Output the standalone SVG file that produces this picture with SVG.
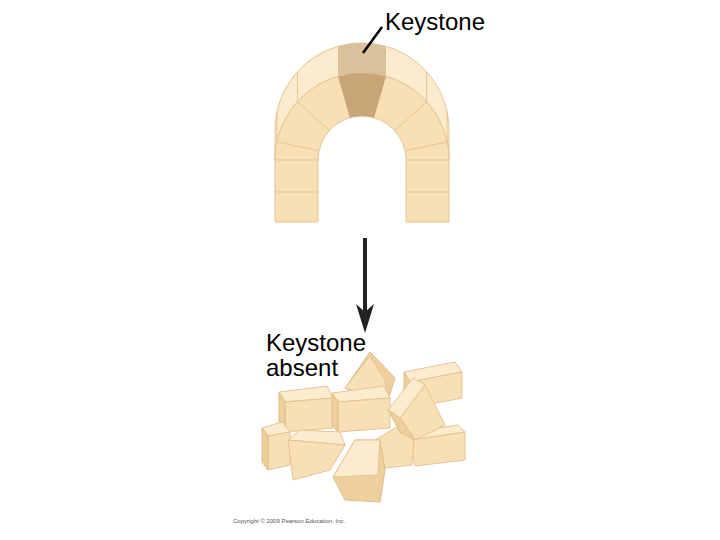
<svg xmlns="http://www.w3.org/2000/svg" width="720" height="540" viewBox="0 0 720 540">
<style>
.t{font-family:"Liberation Sans",Arial,sans-serif;font-size:24px;fill:#000}
.f{fill:#f8e0b4;stroke:#e2c596;stroke-width:1}
.tp{fill:#fcebcc;stroke:#e2c596;stroke-width:1}
.sd{fill:#efcf9c;stroke:#dcbd8b;stroke-width:1}
.d{stroke:#e2c596;stroke-width:1;fill:none}
</style>
<rect width="720" height="540" fill="#fff"/>
<g id="arch">
<path class="tp" d="M275,160 L275,130 A87,87 0 0 1 449,130 L449,160 A87,87 0 0 0 275,160 Z"/>
<path class="f" d="M275,222 L275,160 A87,87 0 0 1 449,160 L449,222 L406,222 L406,160 A44,44 0 0 0 318,160 L318,222 Z"/>
<path d="M338,76.4 A87,87 0 0 1 386,76.4 L386,46.4 A87,87 0 0 0 338,46.4 Z" fill="#d9c19b"/>
<path d="M338,76.4 A87,87 0 0 1 386,76.4 L374.1,117.7 A44,44 0 0 0 349.9,117.7 Z" fill="#c9a678"/>
<path class="d" d="M297.4,101.8 L329.3,130.6 M426.6,101.8 L394.7,130.6 M276.9,141.9 L319,150.8 M447.1,141.9 L405,150.8 M297.4,101.8 L297.4,71.8 M426.6,101.8 L426.6,71.8 M276.9,141.9 L276.9,111.9 M447.1,141.9 L447.1,111.9 M275,192 L318,192 M406,192 L449,192 M275,160 L318,160 M406,160 L449,160"/>
<line x1="363" y1="53" x2="382" y2="27" stroke="#000" stroke-width="2.5"/>
</g>
<text class="t" x="385" y="30">Keystone</text>
<g id="connectors">
<line x1="365" y1="238" x2="365" y2="312" stroke="#222" stroke-width="4"/>
<path d="M365,333 L356,304 L365,312 L374,304 Z" fill="#222"/>
</g>
<text class="t" x="266" y="351">Keystone</text>
<text class="t" x="266" y="376">absent</text>
<g id="rubble">
<path class="sd" d="M345,388 L370,352 L395,378 L388,400 Z"/>
<path class="f" d="M345,388 L370,356 L385,380 L388,400 Z"/>
<path class="tp" d="M404,372 L455,362 L462,372 L410,382 Z"/>
<path class="f" d="M410,382 L462,372 L462,398 L410,408 Z"/>
<path class="sd" d="M404,372 L410,382 L410,408 L404,400 Z"/>
<path class="tp" d="M279,392 L327,386 L333,398 L285,402 Z"/>
<path class="f" d="M285,402 L333,398 L333,428 L285,432 Z"/>
<path class="sd" d="M279,392 L285,402 L285,432 L279,425 Z"/>
<path class="f" d="M410,440 L465,432 L465,460 L415,466 Z"/>
<path class="tp" d="M410,432 L458,425 L465,432 L410,440 Z"/>
<path class="f" d="M375,440 L400,425 L414,440 L412,465 L385,468 Z"/>
<path class="tp" d="M332,393 L384,386 L390,398 L338,402 Z"/>
<path class="f" d="M338,402 L390,398 L390,428 L338,432 Z"/>
<path class="sd" d="M332,393 L338,402 L338,432 L332,425 Z"/>
<path class="tp" d="M388,410 L413,378 L425,385 L400,418 Z"/>
<path class="f" d="M400,418 L425,385 L445,425 L415,440 Z"/>
<path class="sd" d="M388,410 L400,418 L415,440 L400,432 Z"/>
<path class="tp" d="M262,428 L282,422 L290,432 L268,436 Z"/>
<path class="f" d="M268,436 L290,432 L290,465 L268,470 Z"/>
<path class="sd" d="M262,428 L268,436 L268,470 L262,462 Z"/>
<path class="tp" d="M288,440 L300,430 L340,432 L345,445 Z"/>
<path class="f" d="M288,440 L345,445 L330,470 L293,480 Z"/>
<path class="sd" d="M333,477 L355,440 L380,440 L385,470 L380,502 L345,500 Z"/>
<path class="tp" d="M333,477 L355,440 L380,440 L378,475 Z"/>
</g>
<text x="233" y="523" font-family="Liberation Sans,Arial,sans-serif" font-size="6" fill="#555">Copyright © 2009 Pearson Education, Inc.</text>
</svg>
